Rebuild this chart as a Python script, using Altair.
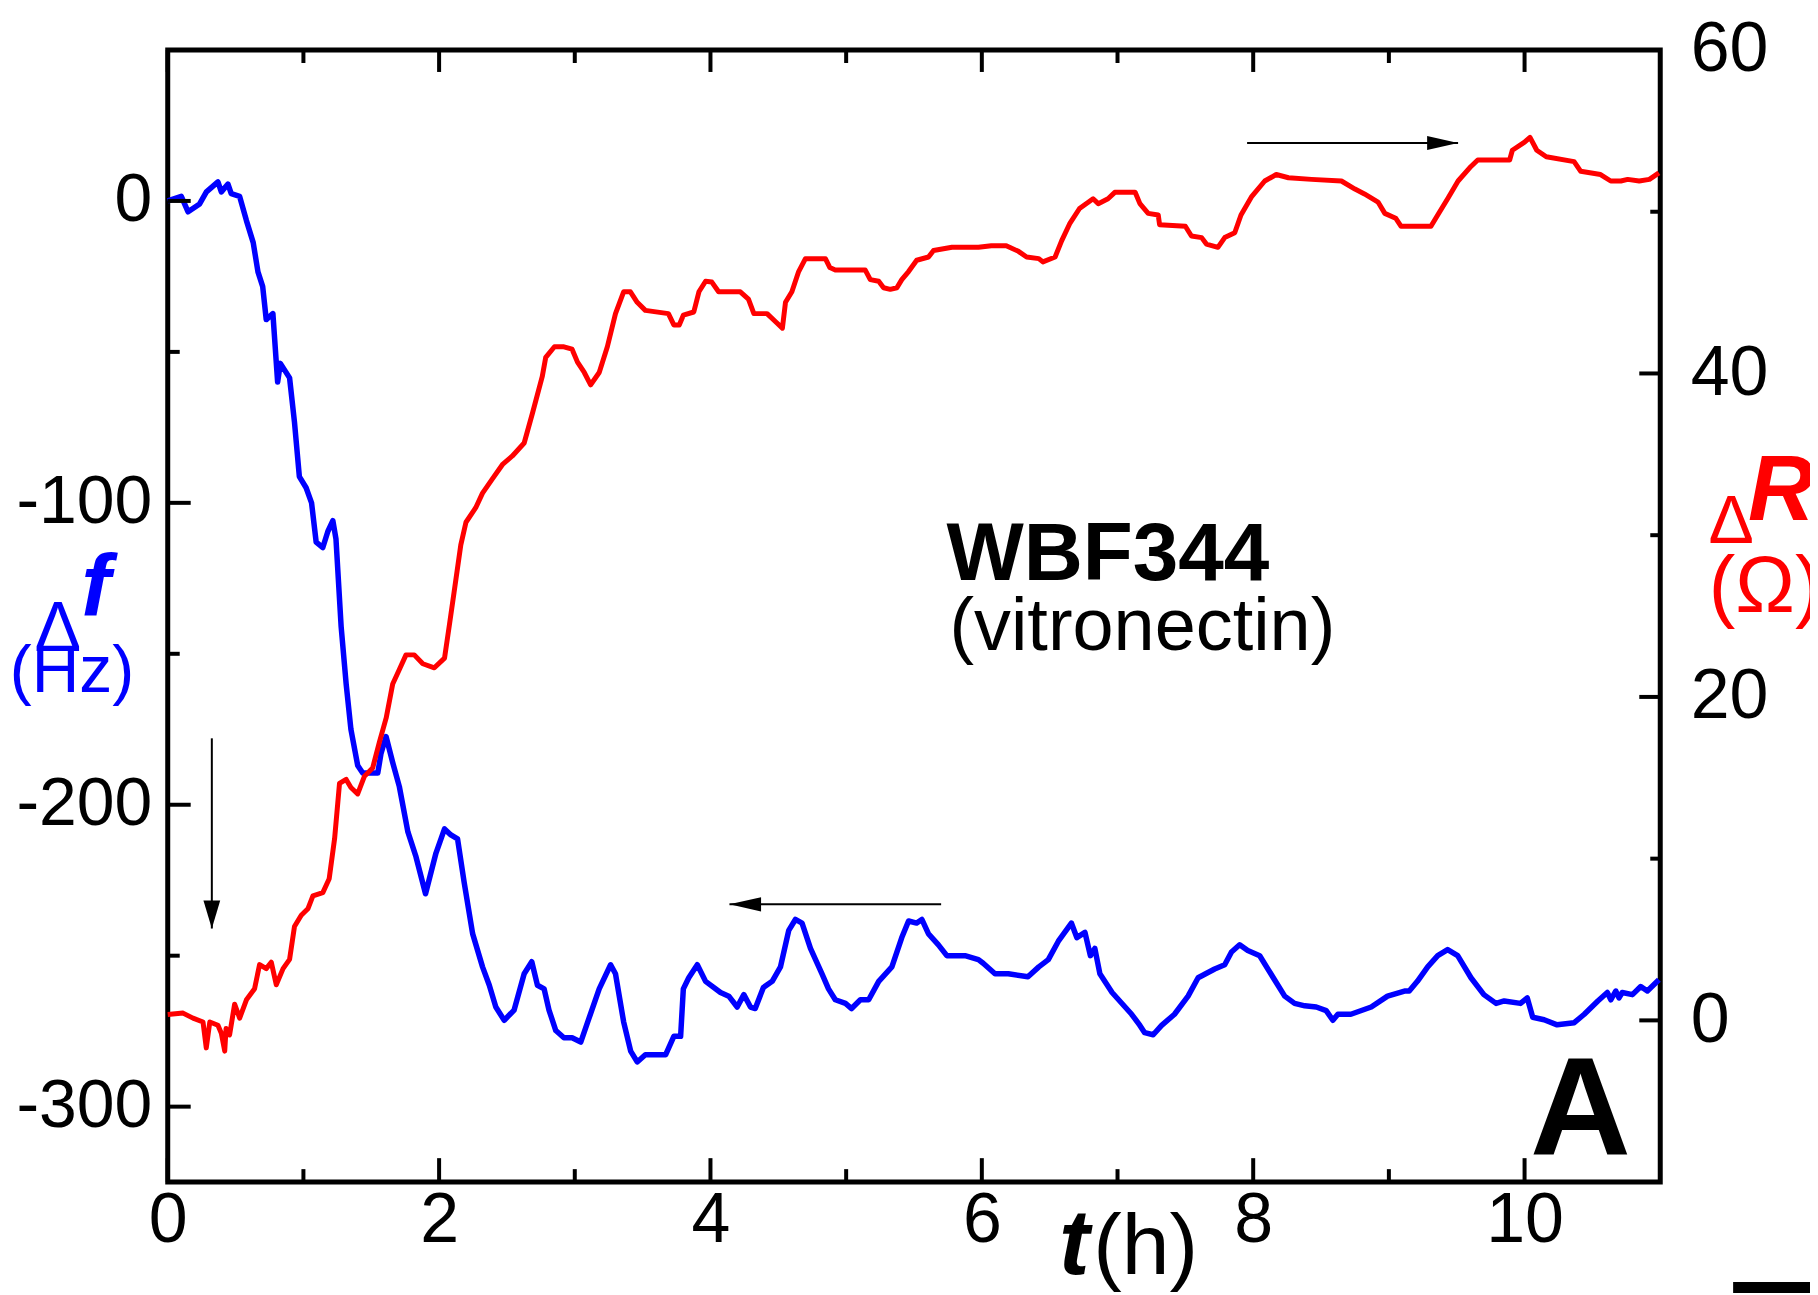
import altair as alt
import pandas as pd

# ---------------- data ----------------
t_f = [0.00, 0.10, 0.15, 0.235, 0.285, 0.37, 0.395, 0.444, 0.468, 0.53, 0.58, 0.63, 0.665, 0.70,
       0.726, 0.775, 0.81, 0.83, 0.898, 0.934, 0.97, 1.02, 1.06, 1.094, 1.143, 1.18, 1.217, 1.24,
       1.278, 1.315, 1.35, 1.40, 1.437, 1.51, 1.548, 1.572, 1.609, 1.658, 1.707, 1.77, 1.83, 1.90,
       1.977, 2.04, 2.087, 2.136, 2.185, 2.247, 2.32, 2.37, 2.418, 2.48, 2.553, 2.627, 2.683, 2.725,
       2.774, 2.81, 2.86, 2.92, 2.98, 3.044, 3.105, 3.18, 3.264, 3.30, 3.36, 3.412, 3.46, 3.52, 3.62,
       3.67, 3.73, 3.78, 3.80, 3.84, 3.903, 3.964, 4.074, 4.135, 4.197, 4.246, 4.295, 4.33, 4.39,
       4.455, 4.516, 4.577, 4.626, 4.675, 4.737, 4.822, 4.87, 4.92, 4.995, 5.04, 5.105, 5.166, 5.24,
       5.337, 5.41, 5.46, 5.52, 5.558, 5.607, 5.68, 5.742, 5.803, 5.876, 5.975, 6.01, 6.097, 6.195,
       6.34, 6.42, 6.49, 6.564, 6.66, 6.70, 6.76, 6.80, 6.833, 6.87, 6.96, 7.104, 7.165, 7.20, 7.263,
       7.325, 7.42, 7.52, 7.594, 7.716, 7.79, 7.84, 7.90, 7.96, 8.048, 8.13, 8.232, 8.305, 8.38,
       8.465, 8.538, 8.587, 8.624, 8.72, 8.87, 8.99, 9.115, 9.15, 9.21, 9.286, 9.36, 9.433, 9.507,
       9.605, 9.70, 9.79, 9.85, 9.97, 10.02, 10.06, 10.144, 10.24, 10.366, 10.44, 10.54, 10.61,
       10.636, 10.672, 10.696, 10.72, 10.795, 10.856, 10.905, 10.99]
f_vals = [0, 1.5, -3.6, -1, 3, 6.3, 3, 5.6, 2.4, 1.5, -6.5, -13.8, -23.5, -28.4,
          -39.3, -37.3, -60, -53.8, -58.6, -73.2, -91.3, -95, -100, -113, -114.8, -109.5, -105.9, -112,
          -141, -160, -175, -187, -189.5, -189.5, -189.5, -183, -177.4, -186, -194, -209, -217.3, -229.5,
          -216, -208, -210, -211.3, -225.8, -242.7, -253.7, -259.8, -267, -271.4, -268, -256, -252, -259.8,
          -261, -268, -274.8, -277.2, -277.2, -278.6, -270.7, -261, -253, -256, -271.9, -281.6, -285.2, -282.8, -282.8,
          -282.8, -276.7, -276.7, -261, -257.3, -253, -258.5, -262.2, -263.4, -267, -262.9, -267, -267.5, -260.5,
          -258.5, -253.7, -241.6, -238, -239.2, -247.6, -256, -261, -264.6, -265.8, -267.5, -264.6, -264.6, -258.5,
          -253.7, -244, -238.5, -239.2, -238, -242.8, -246.4, -250, -250, -250, -251.3, -252.5, -256, -256,
          -257, -253.7, -251.3, -245.2, -239.2, -244, -242.3, -250, -247.6, -256, -262.2, -269.4, -273.1, -275.5, -276.2,
          -273.1, -269.4, -263.4, -257.3, -254.4, -253, -248.8, -246.4, -248.3, -250, -256, -263.4, -265.8, -266.6,
          -267, -268.2, -271.4, -269.4, -269.4, -267, -263.4, -261.7, -261.7, -258.5, -253.7, -250, -248, -250,
          -257.3, -262.9, -265.8, -265, -265.8, -264, -270.4, -271.2, -272.9, -272.2, -269.4, -265, -262.2,
          -264.6, -261.7, -264, -262.2, -262.9, -260.2, -261.7, -258]

t_R = [0.00, 0.113, 0.186, 0.26, 0.284, 0.31, 0.37, 0.395, 0.42, 0.43, 0.456, 0.493, 0.53, 0.58, 0.64,
       0.677, 0.726, 0.763, 0.80, 0.85, 0.898, 0.934, 0.984, 1.033, 1.07, 1.143, 1.19, 1.23, 1.266,
       1.315, 1.35, 1.40, 1.45, 1.51, 1.56, 1.61, 1.658, 1.707, 1.756, 1.817, 1.88, 1.965, 2.04, 2.075,
       2.11, 2.16, 2.198, 2.27, 2.32, 2.394, 2.47, 2.54, 2.627, 2.69, 2.76, 2.786, 2.85, 2.92, 2.98,
       3.02, 3.07, 3.117, 3.18, 3.24, 3.30, 3.36, 3.41, 3.46, 3.52, 3.69, 3.73, 3.77, 3.80, 3.877,
       3.915, 3.964, 4.01, 4.06, 4.22, 4.28, 4.32, 4.417, 4.48, 4.53, 4.553, 4.60, 4.65, 4.70, 4.847,
       4.88, 4.92, 5.14, 5.178, 5.24, 5.276, 5.325, 5.374, 5.41, 5.46, 5.52, 5.607, 5.644, 5.78, 5.975,
       6.07, 6.18, 6.27, 6.33, 6.42, 6.45, 6.54, 6.588, 6.65, 6.72, 6.82, 6.858, 6.93, 6.98, 7.13,
       7.165, 7.226, 7.30, 7.31, 7.50, 7.545, 7.62, 7.655, 7.74, 7.79, 7.864, 7.91, 7.99, 8.085, 8.17,
       8.26, 8.43, 8.65, 8.75, 8.82, 8.92, 8.97, 9.05, 9.09, 9.31, 9.36, 9.433, 9.51, 9.605, 9.655,
       9.89, 9.91, 10.0, 10.04, 10.09, 10.16, 10.365, 10.414, 10.56, 10.635, 10.71, 10.76, 10.845,
       10.92, 10.99]
R_vals = [0.36, 0.45, 0.14, -0.1, -1.7, -0.1, -0.3, -0.8, -1.9, -0.5, -0.9, 1.0, 0.14, 1.27, 1.95,
          3.45, 3.2, 3.6, 2.2, 3.2, 3.77, 5.8, 6.5, 6.9, 7.7, 7.9, 8.76, 11.25, 14.65,
          14.9, 14.4, 14.0, 15.1, 15.6, 17.2, 18.7, 20.8, 21.7, 22.6, 22.6, 22.05, 21.8, 22.4, 24.4,
          26.45, 29.4, 30.8, 31.7, 32.6, 33.5, 34.4, 34.9, 35.7, 37.6, 39.8, 41.0, 41.65, 41.65, 41.5,
          40.7, 40.06, 39.3, 40.06, 41.65, 43.7, 45.05, 45.05, 44.4, 43.9, 43.7, 43.0, 43.0, 43.6, 43.8,
          45.05, 45.7, 45.65, 45.05, 45.05, 44.6, 43.7, 43.7, 43.2, 42.8, 44.4, 45.05, 46.3, 47.1, 47.1,
          46.55, 46.4, 46.4, 45.8, 45.7, 45.3, 45.2, 45.3, 45.8, 46.3, 47.0, 47.2, 47.6, 47.8, 47.8,
          47.9, 47.9, 47.55, 47.2, 47.1, 46.9, 47.2, 48.2, 49.3, 50.2, 50.8, 50.5, 50.8, 51.2, 51.2,
          50.5, 49.9, 49.8, 49.2, 49.1, 48.5, 48.4, 48.0, 47.8, 48.4, 48.7, 49.8, 50.95, 51.9, 52.3,
          52.1, 52.0, 51.9, 51.4, 51.1, 50.6, 49.9, 49.6, 49.1, 49.1, 49.8, 50.8, 51.9, 52.8, 53.2,
          53.2, 53.8, 54.3, 54.6, 53.8, 53.4, 53.1, 52.5, 52.3, 51.9, 51.9, 52.0, 51.9,
          52.0, 52.4]

# axis ticks
x_major = [0, 2, 4, 6, 8, 10]
x_minor = [1, 3, 5, 7, 9]
f_major = [0, -100, -200, -300]
f_minor = [-50, -150, -250]
R_major = [0, 20, 40, 60]
R_minor = [10, 30, 50]

# arrows (data coordinates)
arrow_down_t = [0.325]
arrow_down_f = [-178]
arrow_down_f_tip = [-241]
arrow_left_t = [5.70]
arrow_left_t_tip = [4.14]
arrow_left_f = [-233]
arrow_right_t = [7.955]
arrow_right_t_tip = [9.51]
arrow_right_R = [54.25]

# texts
sample_name = ["WBF344"]
sample_coating = ["(vitronectin)"]
panel_label = ["A"]
delta_sym = ["Δ"]
f_sym = ["f"]
f_unit = ["(Hz)"]
R_sym = ["R"]
R_unit = ["(Ω)"]
t_sym = ["t"]
t_unit = ["(h)"]
corner_piece = ["corner"]

# ---------------- layout ----------------
W, H = 1495, 1134
T_DOM = [0, 11]
F_DOM = [-325, 50]
R_DOM = [-10, 60]
FONT = "Liberation Sans, Arial, sans-serif"
BLUE = "#0000ff"
RED = "#ff0000"

xs = alt.Scale(domain=T_DOM, nice=False, zero=False)
fs = alt.Scale(domain=F_DOM, nice=False, zero=False)
rs = alt.Scale(domain=R_DOM, nice=False, zero=False)

X_AX = alt.Axis(values=x_major, ticks=False, domain=False, grid=False, title=None,
                labelFont=FONT, labelFontSize=70, labelColor="black", labelPadding=4,
                labelFlush=False, labelOverlap=False, labelBaseline="top")

df_f = pd.DataFrame({"t": t_f, "f": f_vals})
df_R = pd.DataFrame({"t": t_R, "R": R_vals})

blue = alt.Chart(df_f).mark_line(color=BLUE, strokeWidth=5.5, strokeJoin="round").encode(
    x=alt.X("t:Q", scale=xs, axis=X_AX),
    y=alt.Y("f:Q", scale=fs, axis=alt.Axis(orient="left", values=f_major, ticks=False, domain=False,
                                            grid=False, title=None, labelFont=FONT, labelFontSize=68,
                                            labelColor="black", labelPadding=16, labelOffset=0,
                                            labelOverlap=False, labelExpr="'' + datum.value")),
)

red = alt.Chart(df_R).mark_line(color=RED, strokeWidth=5, strokeJoin="round").encode(
    x=alt.X("t:Q", scale=xs, axis=X_AX),
    y=alt.Y("R:Q", scale=rs, axis=alt.Axis(orient="right", values=R_major, ticks=False, domain=False,
                                            grid=False, title=None, labelFont=FONT, labelFontSize=70,
                                            labelColor="black", labelPadding=30, labelOffset=0,
                                            labelOverlap=False, labelExpr="'' + datum.value")),
)


def yticks(vals, scale, x0, x1):
    return alt.Chart(pd.DataFrame({"v": vals})).mark_rule(color="black", strokeWidth=4).encode(
        y=alt.Y("v:Q", scale=scale, axis=None), x=alt.value(x0), x2=alt.value(x1))


def xticks(vals, y0, y1):
    return alt.Chart(pd.DataFrame({"v": vals})).mark_rule(color="black", strokeWidth=4).encode(
        x=alt.X("v:Q", scale=xs, axis=X_AX), y=alt.value(y0), y2=alt.value(y1))


ticks = [
    yticks(f_major, fs, 0, 23), yticks(f_minor, fs, 0, 12),
    yticks(R_major, rs, W, W - 21), yticks(R_minor, rs, W, W - 10),
    xticks(x_major, H, H - 24), xticks(x_minor, H, H - 13),
    xticks(x_major, 0, 22), xticks(x_minor, 0, 13),
]

# arrows
ARROW_R = "M 0 0 L -2 -0.45 L -2 0.45 Z"
ARROW_L = "M 0 0 L 2 -0.45 L 2 0.45 Z"
ARROW_D = "M 0 0 L -0.6 -2 L 0.6 -2 Z"

df_ad = pd.DataFrame({"t": arrow_down_t, "f0": arrow_down_f, "f1": arrow_down_f_tip})
df_al = pd.DataFrame({"t0": arrow_left_t, "t1": arrow_left_t_tip, "f": arrow_left_f})
df_ar = pd.DataFrame({"t0": arrow_right_t, "t1": arrow_right_t_tip, "R": arrow_right_R})

arrows = [
    alt.Chart(df_ad).mark_rule(color="black", strokeWidth=2).encode(
        x=alt.X("t:Q", scale=xs, axis=X_AX),
        y=alt.Y("f0:Q", scale=fs, axis=None), y2=alt.Y2("f1:Q")),
    alt.Chart(df_ad).mark_point(shape=ARROW_D, filled=True, color="black", opacity=1, size=784).encode(
        x=alt.X("t:Q", scale=xs, axis=X_AX),
        y=alt.Y("f1:Q", scale=fs, axis=None)),
    alt.Chart(df_al).mark_rule(color="black", strokeWidth=2).encode(
        x=alt.X("t0:Q", scale=xs, axis=X_AX), x2=alt.X2("t1:Q"),
        y=alt.Y("f:Q", scale=fs, axis=None)),
    alt.Chart(df_al).mark_point(shape=ARROW_L, filled=True, color="black", opacity=1, size=1000).encode(
        x=alt.X("t1:Q", scale=xs, axis=X_AX),
        y=alt.Y("f:Q", scale=fs, axis=None)),
    alt.Chart(df_ar).mark_rule(color="black", strokeWidth=2).encode(
        x=alt.X("t0:Q", scale=xs, axis=X_AX), x2=alt.X2("t1:Q"),
        y=alt.Y("R:Q", scale=rs, axis=None)),
    alt.Chart(df_ar).mark_point(shape=ARROW_R, filled=True, color="black", opacity=1, size=961).encode(
        x=alt.X("t1:Q", scale=xs, axis=X_AX),
        y=alt.Y("R:Q", scale=rs, axis=None)),
]


def text(lbl, x, y, size, color="black", weight="normal", style="normal", align="center"):
    return alt.Chart(pd.DataFrame({"label": lbl})).mark_text(
        align=align, baseline="alphabetic", font=FONT, fontSize=size, fontWeight=weight,
        fontStyle=style, color=color).encode(x=alt.value(x), y=alt.value(y), text="label:N")


texts = [
    text(sample_name, 780, 531, 82, weight="bold", align="left"),
    text(sample_coating, 783, 601, 74, align="left"),
    text(panel_label, 1415, 1107, 140, weight="bold"),
    # left axis title
    text(f_unit, -96, 643, 66, color=BLUE),
    text(delta_sym, -110, 602, 70, color=BLUE),
    text(f_sym, -72, 566, 88, color=BLUE, weight="bold", style="italic"),
    # right axis title
    text(R_unit, 1600, 563, 80, color=RED),
    text(delta_sym, 1566, 494, 68, color=RED),
    text(R_sym, 1616, 471, 92, color=RED, weight="bold", style="italic"),
    # x axis title
    text(t_sym, 908, 1226, 92, weight="bold", style="italic"),
    text(t_unit, 927, 1226, 86, align="left"),
]

# the dark fragment visible in the reference's bottom-right corner
corner = alt.Chart(pd.DataFrame({"k": corner_piece})).mark_rect(color="black").encode(
    x=alt.value(1568), x2=alt.value(1660), y=alt.value(1234), y2=alt.value(1252))

chart = alt.layer(blue, red, *ticks, *arrows, *texts, corner).resolve_scale(y="independent").properties(
    width=W, height=H,
    padding={"left": 160, "top": 41, "right": 150, "bottom": 110},
    autosize=alt.AutoSizeParams(type="none"),
).configure_view(stroke="black", strokeWidth=5)

chart.save("out.html", embed_options={"renderer": "svg", "actions": False})
